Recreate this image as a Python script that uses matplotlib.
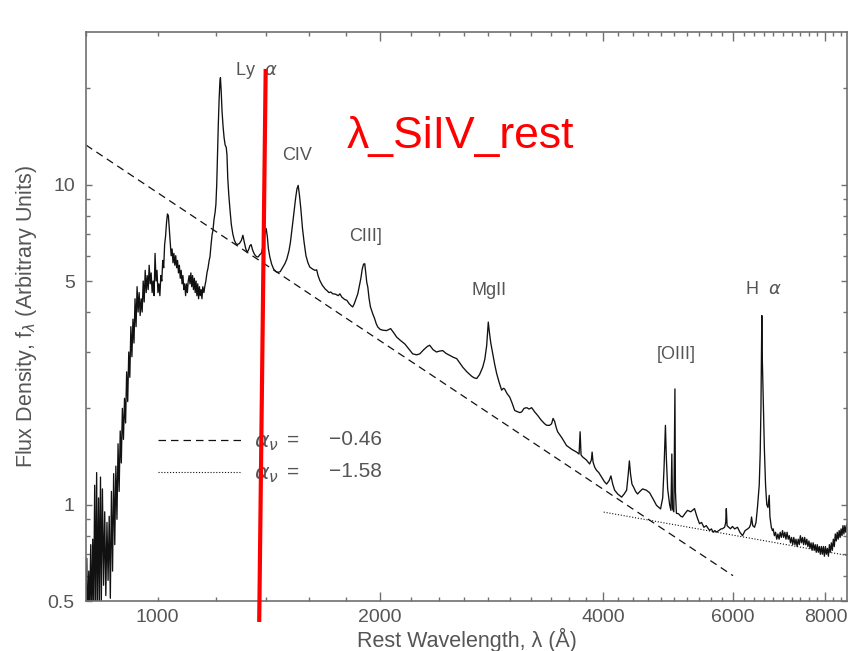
"""Composite quasar spectrum with power-law continuum fits and a marked SiIV line."""

import matplotlib

matplotlib.use("Agg")
import matplotlib.pyplot as plt
from matplotlib.ticker import FixedLocator, FuncFormatter, NullFormatter

INK = "#111111"
GREY = "#555555"
SPINE = "#707070"
RED = "#ff0000"

# -- spectrum (rest wavelength in Å, flux in arbitrary units)
forest_wave = [800, 802, 804, 807, 809, 812, 814, 817, 819, 822, 824, 827, 829, 832, 834,
               837, 839, 842, 845, 848, 851, 854, 857, 860, 863, 866, 869, 872, 875, 878,
               881, 884, 887, 890, 893, 896, 899, 902, 905, 908, 911, 914, 917, 920, 923,
               926, 929, 932, 935, 938, 941, 944, 947, 950, 953, 956, 959, 962, 965, 968,
               971, 974, 977, 980, 983, 986, 989, 992, 995, 998, 1001, 1004, 1007, 1010,
               1013, 1016, 1019, 1022, 1025, 1028, 1031, 1034, 1037, 1040, 1043, 1046,
               1049, 1052, 1055, 1058, 1061, 1064, 1067, 1070, 1073, 1076, 1079, 1082,
               1085, 1088, 1091, 1094, 1097, 1100, 1103, 1106, 1109, 1112, 1115, 1118,
               1121, 1124, 1127, 1130, 1133, 1136, 1139, 1142, 1145, 1148, 1151, 1155]
forest_flux = [0.45, 0.68, 0.42, 0.62, 0.45, 0.75, 0.43, 0.78, 0.45, 1.15, 0.44, 1.26, 0.46,
               1.05, 0.50, 1.22, 0.48, 1.12, 0.56, 0.95, 0.52, 0.88, 0.58, 0.92, 0.51, 1.10,
               0.62, 1.25, 0.75, 1.32, 0.90, 1.55, 1.10, 1.70, 1.35, 2.00, 1.60, 2.15, 1.80,
               2.60, 2.10, 3.00, 2.50, 3.60, 2.90, 3.80, 3.20, 4.40, 3.60, 4.80, 4.00, 4.60,
               3.90, 4.40, 4.00, 5.00, 4.30, 5.40, 4.60, 5.20, 4.70, 5.60, 4.90, 5.30, 4.60,
               5.00, 4.50, 6.10, 5.00, 5.40, 4.60, 4.90, 4.50, 5.20, 5.00, 5.80, 5.50, 6.50,
               6.90, 7.60, 8.10, 8.00, 7.30, 6.60, 6.00, 6.30, 5.70, 6.10, 5.60, 6.00, 5.50,
               5.80, 5.30, 5.60, 5.10, 5.40, 4.90, 5.20, 4.70, 4.90, 4.50, 4.90, 4.60, 5.00,
               5.20, 4.90, 5.30, 4.80, 5.20, 4.70, 5.10, 4.60, 5.00, 4.50, 4.90, 4.40, 4.80,
               4.50, 4.70, 4.40, 4.80, 4.60]

uv_wave = [1158, 1162, 1166, 1170, 1174, 1177, 1181, 1185, 1188, 1192, 1196, 1199, 1202,
           1205, 1208, 1211, 1214, 1216, 1219, 1222, 1226, 1230, 1234, 1238, 1241, 1244,
           1248, 1253, 1258, 1264, 1270, 1276, 1282, 1290, 1298, 1304, 1310, 1316, 1321,
           1327, 1333, 1338, 1344, 1350, 1356, 1362, 1368, 1375, 1381, 1387, 1392, 1397,
           1402, 1407, 1412, 1418, 1426, 1435, 1445, 1455, 1465, 1475, 1486, 1495, 1505,
           1512, 1520, 1528, 1536, 1543, 1549, 1555, 1562, 1570, 1578, 1587, 1597, 1606,
           1620, 1632, 1641, 1648, 1657, 1670, 1685, 1694, 1705, 1715, 1725, 1740, 1755,
           1764, 1775, 1790, 1803, 1815, 1828, 1836, 1845, 1855, 1865, 1875, 1883, 1891,
           1899, 1906, 1912, 1918, 1924, 1932, 1940, 1954, 1965, 1975, 1985, 2000]
uv_flux = [4.80, 5.00, 5.30, 5.50, 5.80, 5.95, 6.50, 7.00, 7.20, 7.80, 8.20, 8.70, 10.0,
           12.5, 15.5, 18.5, 21.0, 21.6, 19.5, 17.0, 15.2, 14.0, 13.3, 13.1, 12.4, 10.5,
           9.30, 8.30, 7.50, 7.00, 6.70, 6.55, 6.50, 6.55, 6.70, 6.95, 6.60, 6.30, 6.15,
           6.25, 6.45, 6.50, 6.25, 6.10, 6.00, 5.95, 5.95, 6.05, 6.10, 6.35, 6.70, 7.10,
           7.30, 6.90, 6.30, 5.95, 5.65, 5.45, 5.35, 5.32, 5.35, 5.50, 5.66, 5.85, 6.20,
           6.60, 7.30, 8.10, 9.00, 9.70, 9.95, 9.30, 8.40, 7.30, 6.60, 6.00, 5.70, 5.53,
           5.45, 5.40, 5.42, 5.20, 5.02, 4.85, 4.72, 4.67, 4.60, 4.62, 4.56, 4.55, 4.50,
           4.56, 4.45, 4.38, 4.35, 4.25, 4.18, 4.15, 4.25, 4.40, 4.56, 4.85, 5.10, 5.45,
           5.65, 5.66, 5.30, 4.95, 4.79, 4.40, 4.15, 3.95, 3.82, 3.68, 3.59, 3.53]

nuv_wave = [2016, 2040, 2066, 2085, 2105, 2130, 2159, 2185, 2213, 2240, 2262, 2290, 2315,
            2333, 2358, 2383, 2405, 2430, 2455, 2483, 2510, 2538, 2560, 2586, 2620, 2659,
            2680, 2701, 2725, 2752, 2770, 2786, 2796, 2800, 2810, 2822, 2839, 2856, 2874,
            2895, 2919, 2935, 2946, 2970, 2993, 3015, 3040, 3070, 3090, 3107, 3130, 3156,
            3180, 3205, 3235, 3266, 3300, 3337, 3360, 3389, 3410, 3426, 3443, 3460, 3475]
nuv_flux = [3.51, 3.50, 3.55, 3.45, 3.34, 3.26, 3.18, 3.07, 2.96, 2.94, 2.96, 3.05, 3.12,
            3.15, 3.05, 3.00, 3.02, 3.03, 2.97, 2.93, 2.89, 2.86, 2.78, 2.69, 2.60, 2.52,
            2.49, 2.48, 2.55, 2.69, 2.85, 3.14, 3.55, 3.72, 3.45, 3.20, 2.96, 2.75, 2.57,
            2.42, 2.28, 2.31, 2.30, 2.22, 2.17, 2.08, 1.97, 1.95, 1.94, 1.95, 2.00, 2.01,
            1.99, 2.01, 1.95, 1.90, 1.84, 1.79, 1.77, 1.77, 1.79, 1.86, 1.82, 1.74, 1.69]

opt_wave = [3520, 3573, 3630, 3686, 3715, 3727, 3738, 3756, 3800, 3839, 3860, 3869, 3880,
            3900, 3923, 3950, 3985, 4020, 4048, 4080, 4102, 4125, 4150, 4190, 4241, 4275,
            4308, 4330, 4345, 4360, 4380, 4402, 4430, 4457, 4490, 4527, 4580, 4627, 4680,
            4728, 4788, 4820, 4840, 4861, 4875, 4895, 4925, 4945, 4959, 4970, 4990, 5000,
            5007, 5015, 5030, 5063, 5100, 5127, 5170, 5207, 5260, 5322, 5360, 5405, 5440,
            5480, 5520, 5577, 5610, 5640, 5670, 5699, 5740, 5780, 5806, 5845, 5865, 5876,
            5890, 5920, 5953, 5990, 6030, 6084, 6130, 6180, 6230, 6280, 6316, 6340, 6356,
            6380, 6416, 6445, 6475, 6510, 6530, 6545, 6555, 6563, 6570, 6580, 6595, 6615,
            6640, 6665, 6690, 6716, 6730, 6760, 6784]
opt_flux = [1.62, 1.53, 1.49, 1.46, 1.44, 1.69, 1.43, 1.41, 1.38, 1.34, 1.38, 1.46, 1.36,
            1.31, 1.28, 1.26, 1.22, 1.18, 1.16, 1.19, 1.23, 1.16, 1.11, 1.08, 1.056, 1.08,
            1.11, 1.25, 1.37, 1.25, 1.16, 1.135, 1.10, 1.08, 1.10, 1.12, 1.11, 1.09, 1.04,
            0.995, 0.97, 1.05, 1.30, 1.77, 1.40, 1.12, 1.00, 0.96, 1.44, 0.97, 0.95, 1.60,
            2.30, 1.10, 0.94, 0.937, 0.92, 0.915, 0.94, 0.96, 0.95, 0.972, 0.92, 0.872, 0.88,
            0.85, 0.86, 0.831, 0.84, 0.82, 0.83, 0.821, 0.83, 0.84, 0.841, 0.85, 0.88, 0.972,
            0.86, 0.85, 0.841, 0.855, 0.84, 0.85, 0.82, 0.80, 0.83, 0.84, 0.85, 0.87, 0.915,
            0.86, 0.85, 0.88, 0.983, 1.15, 1.45, 2.00, 2.90, 3.90, 3.00, 2.55, 2.00, 1.50,
            1.15, 1.00, 0.98, 1.07, 0.92, 0.85, 0.83]

red_wave = [6800, 6825, 6850, 6875, 6900, 6925, 6950, 6975, 7000, 7025, 7050, 7075, 7100,
            7125, 7150, 7175, 7200, 7225, 7250, 7275, 7300, 7325, 7350, 7375, 7400, 7425,
            7450, 7475, 7500, 7525, 7550, 7575, 7600, 7625, 7650, 7675, 7700, 7725, 7750,
            7775, 7800, 7825, 7850, 7875, 7900, 7925, 7950, 7975, 8000, 8025, 8050, 8075,
            8100, 8125, 8150, 8175, 8200, 8225, 8250, 8275, 8300, 8325, 8350, 8375, 8400,
            8425, 8450, 8475, 8500, 8525, 8555]
red_flux = [0.84, 0.80, 0.82, 0.78, 0.81, 0.78, 0.82, 0.79, 0.83, 0.79, 0.82, 0.78, 0.82,
            0.78, 0.80, 0.76, 0.79, 0.75, 0.79, 0.75, 0.78, 0.74, 0.78, 0.75, 0.80, 0.76,
            0.79, 0.75, 0.79, 0.75, 0.78, 0.74, 0.77, 0.73, 0.76, 0.72, 0.76, 0.72, 0.75,
            0.71, 0.75, 0.71, 0.74, 0.70, 0.74, 0.70, 0.74, 0.69, 0.74, 0.70, 0.73, 0.69,
            0.75, 0.71, 0.76, 0.72, 0.78, 0.74, 0.81, 0.77, 0.82, 0.78, 0.83, 0.79, 0.84,
            0.80, 0.86, 0.81, 0.86, 0.82, 0.87]

# -- power-law continuum fits (end points)
blue_fit_wave = [800, 6000]
blue_fit_flux = [13.3, 0.60]
red_fit_wave = [4011, 8555]
red_fit_flux = [0.948, 0.694]
fit_alphas = ["\u22120.46", "\u22121.58"]

# -- emission line labels: text, wavelength, flux height
line_labels = ["Ly  $\\alpha$", "CIV", "CIII]", "MgII", "[OIII]", "H  $\\alpha$"]
label_wave = [1359, 1545, 1910, 2803, 5028, 6598]
label_flux = [22.8, 12.3, 6.87, 4.68, 2.94, 4.71]

# -- hand-drawn marker for the SiIV rest wavelength
marker_wave = [1400, 1372]
marker_flux = [23.0, 0.43]
marker_text = "\u03bb_SiIV_rest"

x_major = [2000, 4000, 6000, 8000]
x_minor = [w for w in range(800, 8600, 200) if w not in x_major]
y_major = [0.5, 1, 5, 10]
y_minor = [0.6, 0.7, 0.8, 0.9, 2, 3, 4, 6, 7, 8, 9, 20]

plt.rcParams["font.family"] = ["Liberation Sans", "DejaVu Sans"]

fig = plt.figure(figsize=(8.53, 6.51), dpi=100)
ax = fig.add_axes([0.1008, 0.0768, 0.8921, 0.874])
ax.set_xscale("log")
ax.set_yscale("log")

# spectrum, drawn as one continuous trace
spec_wave = forest_wave + uv_wave + nuv_wave + opt_wave + red_wave
spec_flux = forest_flux + uv_flux + nuv_flux + opt_flux + red_flux
ax.plot(spec_wave, spec_flux, color=INK, linewidth=0.95)

ax.plot(blue_fit_wave, blue_fit_flux, color=INK, linewidth=0.9, dashes=(6, 4))
ax.plot(red_fit_wave, red_fit_flux, color=INK, linewidth=0.8, dashes=(1, 1.6))

for text, w, f in zip(line_labels, label_wave, label_flux):
    ax.text(w, f, text, color=GREY, fontsize=13, ha="center", va="center")

# legend for the two fits
ax.plot([0.094, 0.205], [0.283, 0.283], transform=ax.transAxes, color=INK,
        linewidth=0.9, dashes=(6, 4))
ax.plot([0.094, 0.203], [0.227, 0.227], transform=ax.transAxes, color=INK,
        linewidth=0.8, dashes=(1, 1.6))
for yy, val in zip([0.283, 0.227], fit_alphas):
    ax.text(0.221, yy - 0.004, "$\\alpha_\\nu$", transform=ax.transAxes, color=GREY,
            fontsize=16, va="center")
    ax.text(0.264, yy, "=", transform=ax.transAxes, color=GREY, fontsize=15, va="center")
    ax.text(0.320, yy, val, transform=ax.transAxes, color=GREY, fontsize=15, va="center")

# red overlay
ax.plot(marker_wave, marker_flux, color=RED, linewidth=3.0, clip_on=False, zorder=5,
        solid_capstyle="butt")
fig.text(0.540, 0.79, marker_text, color=RED, fontsize=32, ha="center", va="center")

ax.set_xlim(800, 8555)
ax.set_ylim(0.5, 30)

ax.xaxis.set_major_locator(FixedLocator(x_major))
ax.xaxis.set_minor_locator(FixedLocator(x_minor))
ax.xaxis.set_major_formatter(FuncFormatter(lambda v, p: f"{v:.0f}"))
ax.xaxis.set_minor_formatter(FuncFormatter(lambda v, p: "1000" if abs(v - 1000) < 1 else ""))
ax.yaxis.set_major_locator(FixedLocator(y_major))
ax.yaxis.set_minor_locator(FixedLocator(y_minor))
ax.yaxis.set_major_formatter(FuncFormatter(lambda v, p: f"{v:g}"))
ax.yaxis.set_minor_formatter(NullFormatter())

ax.tick_params(which="both", direction="in", top=True, right=True, colors=SPINE,
               labelcolor=GREY, labelsize=14, width=1.0)
ax.tick_params(axis="x", which="major", length=6.5, pad=6)
ax.tick_params(axis="x", which="minor", length=3.2, pad=6)
ax.tick_params(axis="y", which="major", length=4.3, pad=8)
ax.tick_params(axis="y", which="minor", length=3.2, pad=8)

for side in ax.spines.values():
    side.set_color(SPINE)
    side.set_linewidth(1.2)

ax.set_xlabel("Rest Wavelength, \u03bb (\u00c5)", color=GREY, fontsize=15.5, labelpad=1)
ax.set_ylabel("Flux Density, f$_\\lambda$ (Arbitrary Units)", color=GREY, fontsize=15.5,
              labelpad=6)

fig.savefig("out.png", dpi=100, facecolor="white")
